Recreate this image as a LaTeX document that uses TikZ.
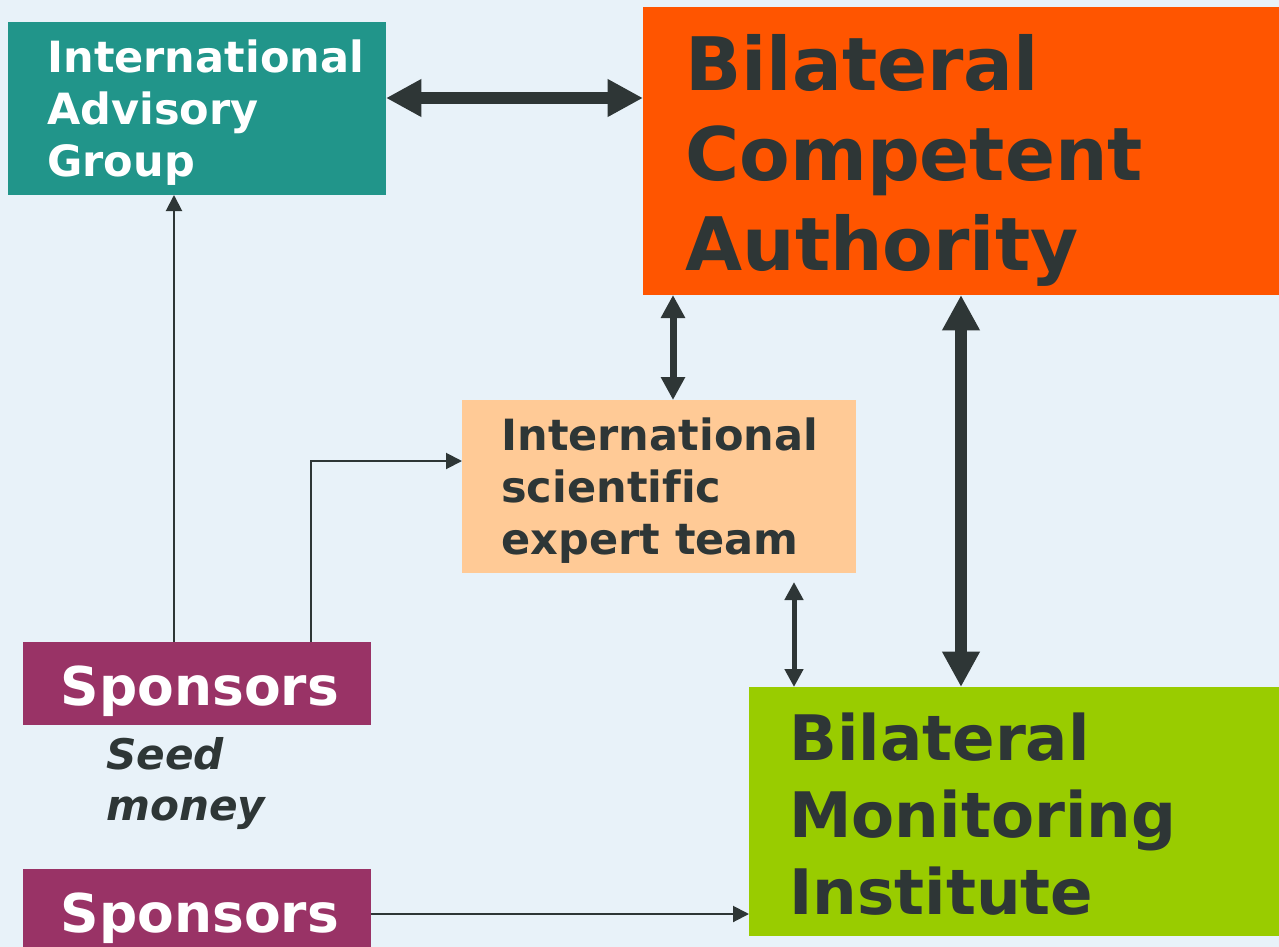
\documentclass[tikz,border=0pt]{standalone}
\usepackage{fontspec}
\setmainfont[Ligatures=NoCommon]{DejaVu Sans}
\usetikzlibrary{arrows.meta,fit}
\definecolor{bgblue}{HTML}{E8F2F9}
\definecolor{iagteal}{HTML}{21958A}
\definecolor{bcaorange}{HTML}{FF5500}
\definecolor{isetpeach}{HTML}{FFCA96}
\definecolor{sponsorpurple}{HTML}{993366}
\definecolor{bmigreen}{HTML}{99CC00}
\definecolor{darktext}{HTML}{2E3636}

\begin{document}
\begin{tikzpicture}[x=0.02cm, y=-0.02cm,
    box/.style={inner sep=0pt, outer sep=0pt},
    boxtext/.style={anchor=base west, align=left, inner sep=0pt},
    smalltext/.style={font=\bfseries\fontsize{24.5}{29.5}\selectfont},
    bigarrow/.style={draw=darktext, line width=0.25cm,
        {Triangle[length=0.71cm,width=0.71cm]}-{Triangle[length=0.71cm,width=0.71cm]}},
    midarrow/.style={draw=darktext, line width=0.14cm,
        {Triangle[length=0.46cm,width=0.46cm]}-{Triangle[length=0.46cm,width=0.46cm]}},
    smallarrow/.style={draw=darktext, line width=0.1cm,
        {Triangle[length=0.36cm,width=0.36cm]}-{Triangle[length=0.36cm,width=0.36cm]}},
    thinarrow/.style={draw=darktext, line width=0.04cm,
        -{Triangle[length=0.32cm,width=0.32cm]}}
]
    \useasboundingbox (0,0) rectangle (1279,947);
    \clip (0,0) rectangle (1279,947);
    \fill[bgblue] (0,0) rectangle (1279,947);
    % define boxes
    \node[box, fill=iagteal, fit={(8,22) (386,195)}] (iag) {};
    \node[box, fill=bcaorange, fit={(643,7) (1290,295)}] (bca) {};
    \node[box, fill=isetpeach, fit={(462,400) (856,573)}] (iset) {};
    \node[box, fill=sponsorpurple, fit={(23,642) (371,725)}] (spons) {};
    \node[box, fill=sponsorpurple, fit={(23,869) (371,957)}] (sponsb) {};
    \node[box, fill=bmigreen, fit={(749,687) (1290,936)}] (bmi) {};
    \coordinate (isetgap) at (794,582);
    % draw arrows
    \draw[bigarrow] (iag.east |- 0,98) -- (bca.west |- 0,98);
    \draw[bigarrow] (bca.south -| 961,0) -- (bmi.north -| 961,0);
    \draw[midarrow] (bca.south -| 673,0) -- (iset.north -| 673,0);
    \draw[smallarrow] (isetgap) -- (bmi.north -| 794,0);
    \draw[thinarrow] (spons.north -| 174,0) -- (iag.south -| 174,0);
    \draw[thinarrow] (spons.north -| 311,0) |- (iset.west |- 0,461);
    \draw[thinarrow] (sponsb.east |- 0,914) -- (bmi.west |- 0,914);
    % add labels (base is the last line)
    \node[boxtext, smalltext, text=white] (iagtxt) at (47,176)
        {International\\Advisory\\Group};
    \node[boxtext, text=darktext, font=\bfseries\fontsize{42}{51}\selectfont] (bcatxt)
        at (685,270) {Bilateral\\Competent\\Authority};
    \node[boxtext, smalltext, text=darktext] (isettxt)
        at (501,554) {International\\scientific\\expert team};
    \node[boxtext, text=darktext, font=\bfseries\fontsize{35.7}{43.8}\selectfont] (bmitxt)
        at (789,914) {Bilateral\\Monitoring\\Institute};
    \node[anchor=base, inner sep=0pt, text=white, font=\bfseries\fontsize{30.4}{36}\selectfont] (sponstxt)
        at (200,705) {Sponsors};
    \node[anchor=base, inner sep=0pt, text=white, font=\bfseries\fontsize{30.4}{36}\selectfont] (sponsbtxt)
        at (200,932) {Sponsors};
    \node[boxtext, text=darktext, font=\bfseries\itshape\fontsize{24}{28.5}\selectfont] (seedtxt)
        at (106,820) {Seed\\money};
\end{tikzpicture}
\end{document}
